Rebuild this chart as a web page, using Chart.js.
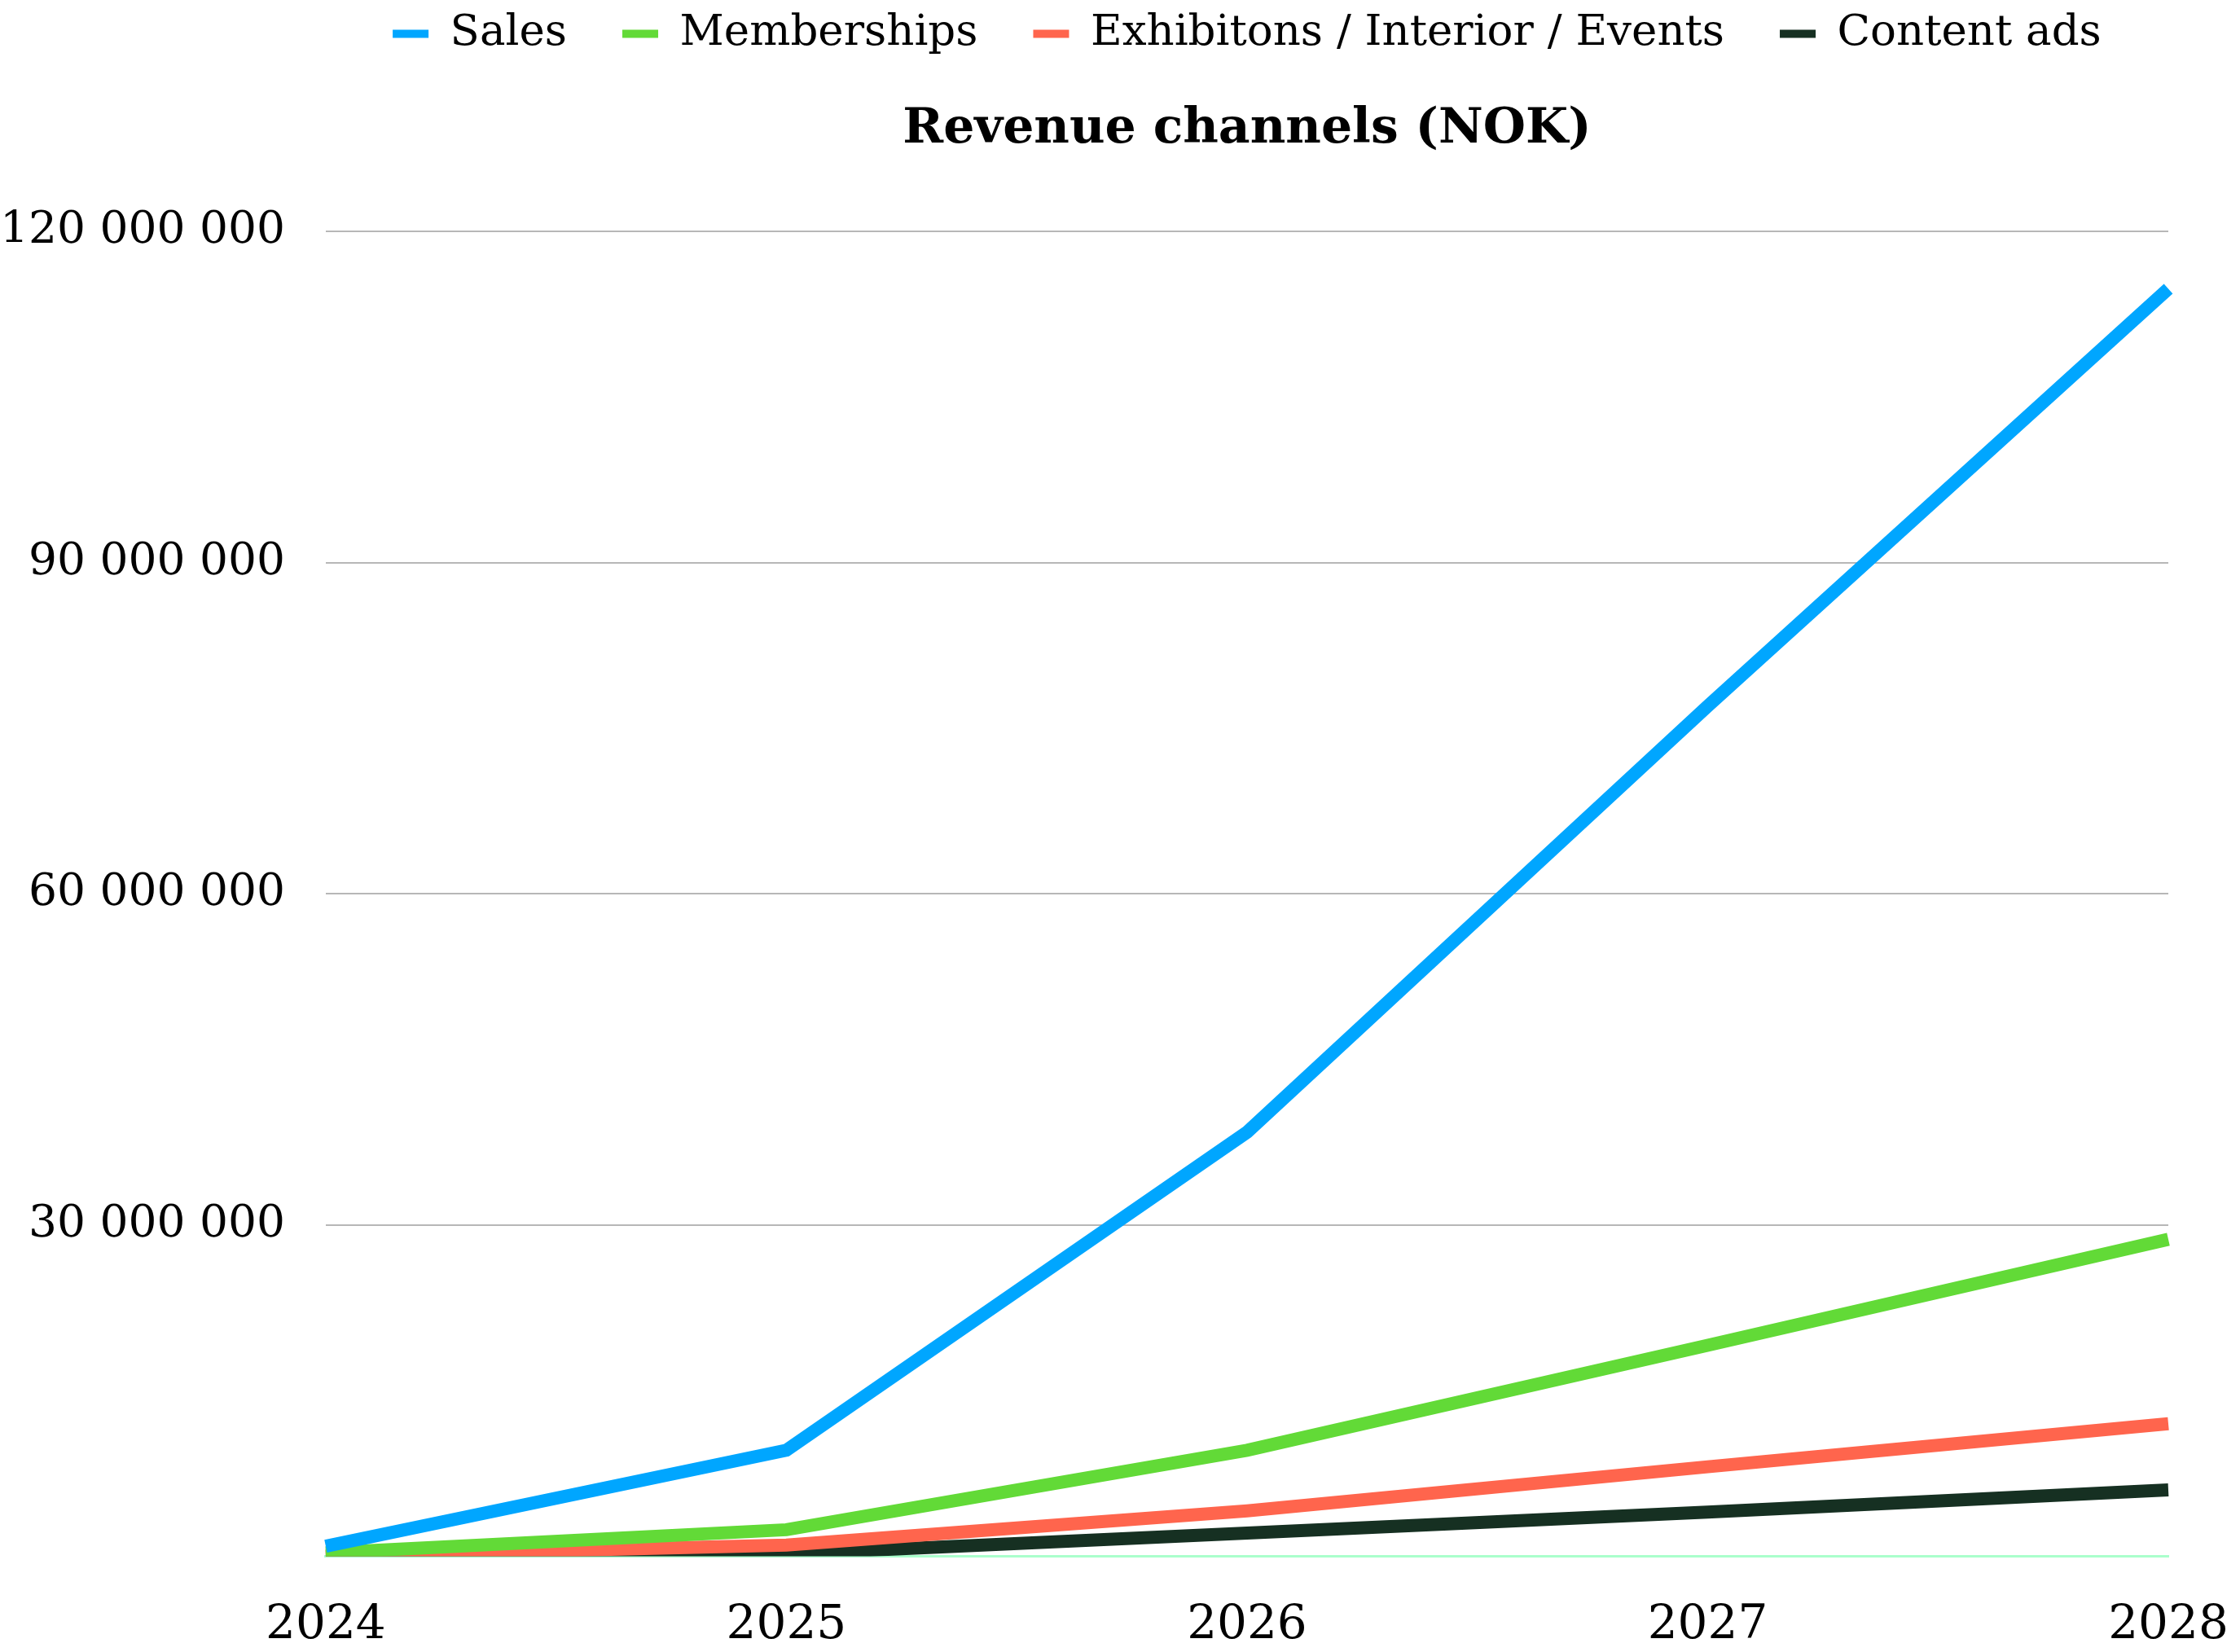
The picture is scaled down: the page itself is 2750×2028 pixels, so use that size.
<!DOCTYPE html>
<html>
<head>
<meta charset="utf-8">
<script src="https://cdn.jsdelivr.net/npm/chart.js@4/dist/chart.umd.min.js"></script>
<style>
  html, body { margin: 0; padding: 0; background: #fff; overflow: hidden; }
  #wrap { width: 2750px; height: 2028px; }
</style>
</head>
<body>
<div id="wrap"><canvas id="myChart"></canvas></div>
<script>
const years = ['2024', '2025', '2026', '2027', '2028'];
const sales = [900000, 9600000, 38400000, 77000000, 114800000];
const memberships = [300000, 2400000, 9600000, 19100000, 28700000];
const exhibitions = [0, 1000000, 4100000, 8100000, 12000000];
const contentAds = [0, 200000, 2100000, 4000000, 6000000];

const FONT = 'DejaVu Serif';
Chart.defaults.font.family = FONT;
Chart.defaults.color = '#000';

function line(label, data, color) {
    return {
        label: label,
        data: data,
        borderColor: color,
        backgroundColor: color,
        borderWidth: 16,
        pointRadius: 0,
        tension: 0,
        fill: false
    };
}

var ctx = document.getElementById('myChart').getContext('2d');
new Chart(ctx, {
    type: 'line',
    data: {
        labels: years,
        datasets: [
            line('Sales', sales, '#00a6ff'),
            line('Memberships', memberships, '#62da37'),
            line('Exhibitons / Interior / Events', exhibitions, '#ff654d'),
            line('Content ads', contentAds, '#163022')
        ]
    },
    options: {
        responsive: true,
        maintainAspectRatio: false,
        animation: false,
        layout: { autoPadding: false, padding: { left: -50, right: 88, top: -53, bottom: -46 } },
        plugins: {
            legend: {
                position: 'top',
                fullSize: false,
                weight: 3000,
                labels: {
                    boxWidth: 44,
                    boxHeight: 10,
                    padding: 68,
                    font: { size: 53 },
                    generateLabels(chart) {
                        const items = Chart.defaults.plugins.legend.labels.generateLabels(chart);
                        return items.map(it => Object.assign(it, { lineWidth: 0 }));
                    }
                }
            },
            title: {
                display: true,
                fullSize: false,
                text: 'Revenue channels (NOK)',
                font: { size: 60, weight: 'bold' },
                padding: { top: 45, bottom: 89 }
            },
            tooltip: { enabled: false }
        },
        scales: {
            x: {
                grid: { display: false },
                border: { display: true, color: '#aaffcc', width: 3 },
                ticks: { font: { size: 58, lineHeight: 2.2 }, padding: 14, maxRotation: 0 }
            },
            y: {
                min: 0,
                max: 120000000,
                border: { display: false },
                grid: {
                    drawTicks: false,
                    lineWidth: 2,
                    color: c => c.tick && c.tick.value === 0 ? 'rgba(0,0,0,0)' : '#b7b7b7'
                },
                ticks: {
                    stepSize: 30000000,
                    padding: 50,
                    font: { size: 55 },
                    callback(value) {
                        if (value === 0) return '';
                        return String(value).replace(/\B(?=(\d{3})+(?!\d))/g, ' ');
                    }
                }
            }
        }
    }
});
</script>
</body>
</html>
